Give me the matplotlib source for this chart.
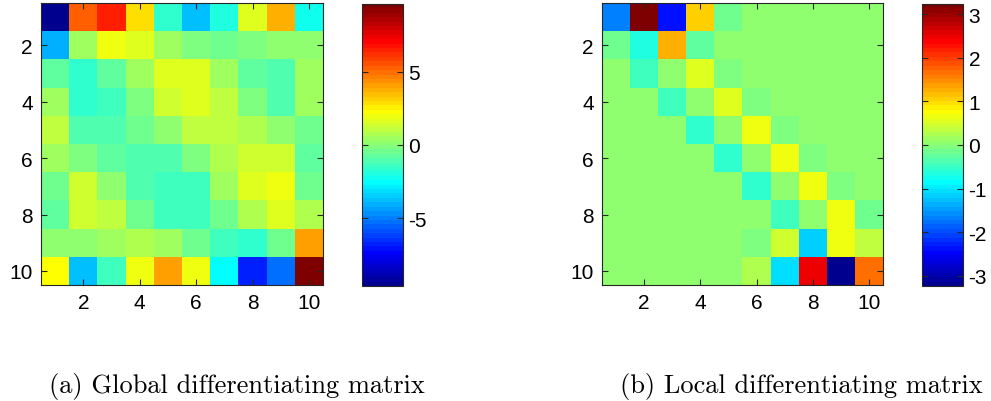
import numpy as np
import matplotlib
matplotlib.use("Agg")
import matplotlib.pyplot as plt
from matplotlib.colors import ListedColormap

# ---- data ----------------------------------------------------------------
GLOBAL_MATRIX = [
    [-9.60, 5.25, 6.45, 2.70, -1.65, -3.90, -1.95, 1.65, 3.75, -2.25],
    [-4.05, 0.45, 1.95, 1.65, 0.45, -0.15, -0.30, -0.15, 0.15, 0.15],
    [-0.75, -1.65, -0.90, 0.45, 1.65, 1.65, 0.45, -0.75, -1.05, 0.45],
    [0.45, -1.80, -1.50, -0.15, 1.35, 1.50, 1.05, -0.15, -1.05, 0.45],
    [1.05, -1.20, -1.20, -0.60, 0.15, 1.05, 1.05, 0.75, 0.15, -0.45],
    [0.45, -0.15, -0.75, -1.05, -1.05, -0.15, 0.75, 1.35, 1.20, -0.75],
    [-0.30, 1.35, 0.15, -1.05, -1.50, -1.35, 0.45, 1.65, 1.95, -0.45],
    [-0.75, 1.35, 0.90, -0.45, -1.50, -1.50, -0.45, 0.75, 1.65, 0.60],
    [0.15, 0.15, 0.30, 0.60, 0.45, -0.45, -1.50, -1.80, -0.30, 4.05],
    [2.25, -3.75, -1.50, 1.95, 3.90, 1.95, -2.55, -6.75, -5.25, 9.60],
]

LOCAL_MATRIX = [
    [-1.66, 3.23, -2.37, 1.06, -0.15, 0, 0, 0, 0, 0],
    [-0.20, -0.66, 1.26, -0.30, 0, 0, 0, 0, 0, 0],
    [0, -0.45, 0, 0.56, -0.05, 0, 0, 0, 0, 0],
    [0, 0, -0.50, 0, 0.56, -0.05, 0, 0, 0, 0],
    [0, 0, 0, -0.55, 0, 0.61, -0.05, 0, 0, 0],
    [0, 0, 0, 0, -0.55, 0, 0.66, -0.10, 0, 0],
    [0, 0, 0, 0, 0, -0.55, 0, 0.61, -0.10, 0],
    [0, 0, 0, 0, 0, 0, -0.50, 0, 0.61, -0.15],
    [0, 0, 0, 0, 0, -0.05, 0.46, -1.16, 0.66, 0.36],
    [0, 0, 0, 0, 0, 0.25, -1.06, 2.48, -3.23, 1.67],
]

AXIS_TICKS = [2, 4, 6, 8, 10]
GLOBAL_CBAR_TICKS = [-5, 0, 5]
LOCAL_CBAR_TICKS = [-3, -2, -1, 0, 1, 2, 3]
CAPTIONS = ["(a) Global differentiating matrix", "(b) Local differentiating matrix"]


def matlab_jet(m=64):
    """MATLAB's jet(m) colormap."""
    n = int(np.ceil(m / 4))
    u = np.concatenate([np.arange(1, n + 1) / n, np.ones(n - 1), np.arange(n, 0, -1) / n])
    g = int(np.ceil(n / 2)) - (1 if m % 4 == 1 else 0) + np.arange(1, len(u) + 1)
    r = g + n
    b = g - n
    J = np.zeros((m, 3))
    for col, idx in ((0, r), (1, g), (2, b)):
        keep = (idx >= 1) & (idx <= m)
        J[idx[keep] - 1, col] = u[keep]
    return ListedColormap(J)


plt.rcParams["font.family"] = ["Liberation Sans", "DejaVu Sans"]
CMAP = matlab_jet(64)

W, H = 991, 402
fig = plt.figure(figsize=(W / 100, H / 100), dpi=100)


def px_axes(x0, y0, x1, y1):
    return fig.add_axes([x0 / W, 1 - y1 / H, (x1 - x0) / W, (y1 - y0) / H])


def style_ax(ax):
    for s in ax.spines.values():
        s.set_linewidth(0.8)
        s.set_color("#262626")
    ax.tick_params(direction="in", length=4, width=0.8, labelsize=15,
                   top=True, right=True, color="#262626", pad=6)


panels = [
    (GLOBAL_MATRIX, GLOBAL_CBAR_TICKS, (41, 4, 323, 286), (362, 5, 403, 287), 237),
    (LOCAL_MATRIX, LOCAL_CBAR_TICKS, (602, 4, 883, 286), (922, 5, 963, 287), 801),
]

for i, (mat, cticks, ax_box, cb_box, cap_x) in enumerate(panels):
    data = np.array(mat)
    ax = px_axes(*ax_box)
    im = ax.imshow(data, cmap=CMAP, interpolation="nearest", aspect="auto",
                   extent=(0.5, 10.5, 10.5, 0.5))
    ax.set_xticks(AXIS_TICKS)
    ax.set_yticks(AXIS_TICKS)
    style_ax(ax)

    cax = px_axes(*cb_box)
    cb = fig.colorbar(im, cax=cax, ticks=cticks)
    cb.outline.set_linewidth(0.8)
    cb.outline.set_edgecolor("#262626")
    cax.tick_params(direction="in", length=4, width=0.8, labelsize=15,
                    left=True, right=True, color="#262626", pad=4)
    cax.set_yticklabels([f"{t}" for t in cticks])

    fig.text(cap_x / W, 1 - 393 / H, CAPTIONS[i], ha="center", va="baseline",
             fontsize=19, family=["cmr10", "DejaVu Serif"])

fig.savefig("out.png", dpi=100)
